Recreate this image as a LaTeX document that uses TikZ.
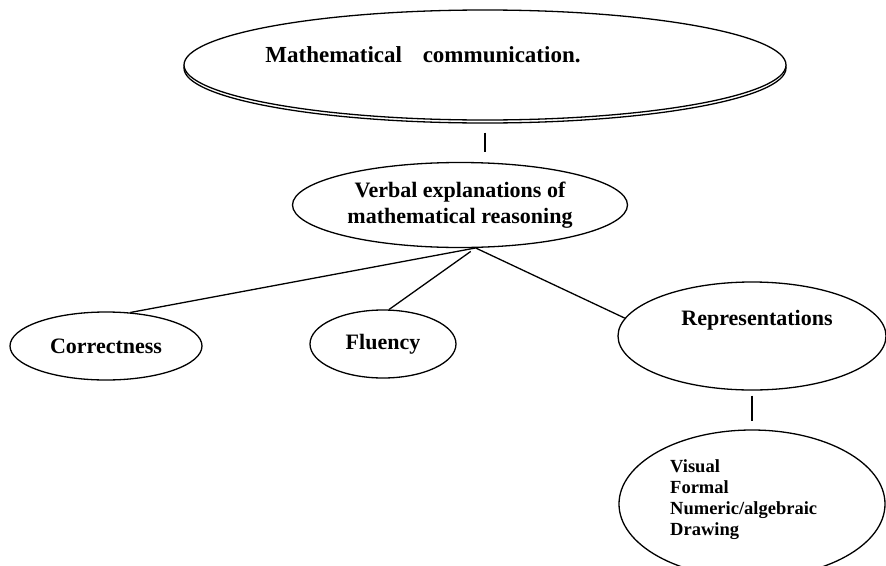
\documentclass[tikz,border=0pt]{standalone}
\usepackage{fontspec}
\setmainfont{Liberation Serif}
\usetikzlibrary{shapes.geometric}
\tikzset{
  oval/.style={ellipse, draw=black, line width=1.3pt, inner sep=0pt, fill=white, align=center, font=\bfseries\fontsize{22}{26}\selectfont},
  bigoval/.style={oval, minimum width=602pt, minimum height=110pt},
  txt/.style={inner sep=0pt, align=center, font=\bfseries\fontsize{22}{26}\selectfont},
  itemtxt/.style={inner sep=0pt, align=left, font=\bfseries\fontsize{18.5}{21}\selectfont},
  link/.style={line width=1.3pt}
}
\begin{document}
\begin{tikzpicture}[x=1pt, y=-1pt]
  \clip (0,0) rectangle (886,565);
  \node[bigoval, fill=none] (topshade) at (485,68) {};
  \node[bigoval] (top) at (485,65) {};
  \node[txt, font=\bfseries\fontsize{23}{26}\selectfont] (toptext) at (423,55) {Mathematical\hspace{0.9em}communication.};
  \node[oval, minimum width=335pt, minimum height=85pt] (verbal) at (460,205) {Verbal explanations of\\mathematical reasoning};
  \node[oval, minimum width=192pt, minimum height=68pt] (correct) at (106,346) {Correctness};
  \node[oval, minimum width=146pt, minimum height=68pt] (fluency) at (383,344) {\raisebox{3pt}{Fluency}};
  \node[oval, minimum width=268pt, minimum height=108pt] (repres) at (752,336) {};
  \node[txt] (repretext) at (757,320) {Representations};
  \node[oval, minimum width=266pt, minimum height=148pt] (kinds) at (752,504) {};
  \node[itemtxt, anchor=west] (items) at (670,500) {Visual\\Formal\\Numeric/algebraic\\Drawing};
  \coordinate (fork) at (verbal.-70);
  \draw[link, shorten <=12pt, shorten >=10pt] (top.south) -- (top.south |- verbal.north);
  \draw[link] (fork) -- (correct.54);
  \draw[link, shorten <=6pt] (fork) -- (fluency.80);
  \draw[link] (fork) -- (repres.172);
  \draw[link, shorten <=5pt, shorten >=8pt] (repres.south) -- (kinds.north);
\end{tikzpicture}
\end{document}
